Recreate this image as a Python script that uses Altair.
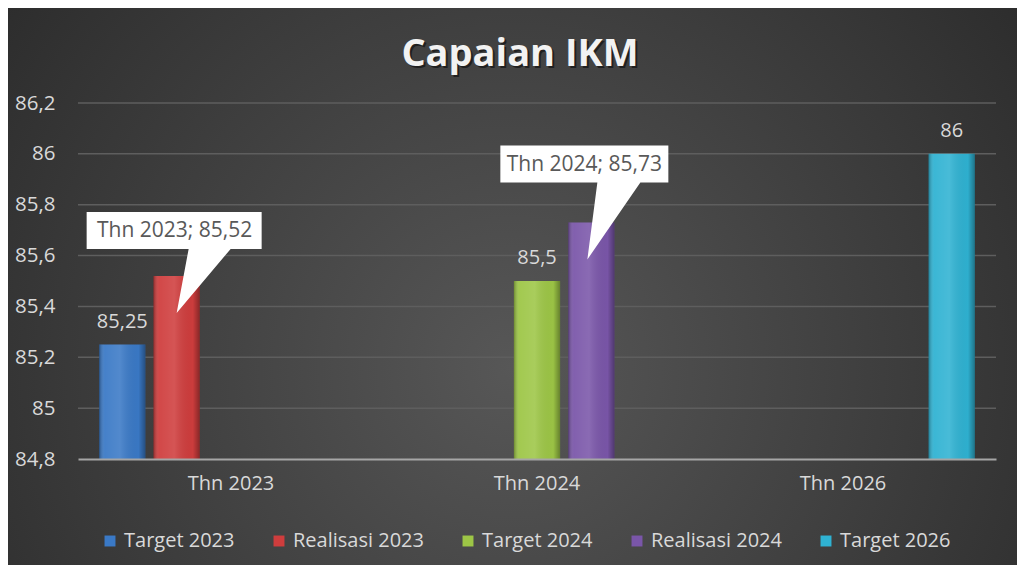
import altair as alt
import pandas as pd

# ---- data ----
categories = ["Thn 2023", "Thn 2023", "Thn 2024", "Thn 2024", "Thn 2026"]
series = ["Target 2023", "Realisasi 2023", "Target 2024", "Realisasi 2024", "Target 2026"]
values = [85.25, 85.52, 85.5, 85.73, 86.0]
category_order = ["Thn 2023", "Thn 2024", "Thn 2026"]
target_series = ["Target 2023", "Target 2024", "Target 2026"]
y_ticks = [84.8, 85.0, 85.2, 85.4, 85.6, 85.8, 86.0, 86.2]
title_text = "Capaian IKM"

colors = ["#3a79c6", "#cf3d3d", "#9dc646", "#7a56a9", "#2fb2d2"]

df = pd.DataFrame({"cat": categories, "series": series, "value": values})
grid_df = pd.DataFrame({"value": y_ticks[1:]})

W, H = 918, 356
FONT = "Open Sans"
LABEL = "#d9d9d9"
BASE = y_ticks[0]

x_enc = alt.X(
    "cat:N", sort=category_order,
    scale=alt.Scale(paddingInner=0, paddingOuter=0),
    axis=alt.Axis(title=None, labelAngle=0, labelFont=FONT, labelFontSize=20,
                  labelColor=LABEL, labelPadding=14, ticks=False, tickSize=0,
                  domainColor="#a6a6a6", domainWidth=2, zindex=1),
)
xo_enc = alt.XOffset("series:N", sort=series,
                     scale=alt.Scale(paddingInner=0.15, paddingOuter=0.39))
y_scale = alt.Scale(domain=[y_ticks[0], y_ticks[-1]], nice=False, zero=False)
y_enc = alt.Y(
    "value:Q", scale=y_scale,
    axis=alt.Axis(title=None, values=y_ticks,
                  labelExpr="replace(toString(round(datum.value*10)/10), '.', ',')",
                  labelFont=FONT, labelFontSize=20.5, labelColor=LABEL,
                  labelPadding=23, ticks=False, tickSize=0, domain=False,
                  grid=False, zindex=1),
)
y2_enc = alt.Y2(datum=BASE)

base = alt.Chart(df).transform_calculate(
    lab="replace(toString(datum.value), '.', ',')"
)

# background panel (radial gradient like the source)
bg = alt.Chart(pd.DataFrame({"a": [0]})).mark_rect(
    fill={"gradient": "radial", "x1": 0.5, "y1": 0.58, "r1": 0,
          "x2": 0.5, "y2": 0.58, "r2": 0.72,
          "stops": [{"offset": 0, "color": "#575757"},
                    {"offset": 1, "color": "#262626"}]},
    clip=False,
).encode(x=alt.value(-70), x2=alt.value(W + 21), y=alt.value(-95), y2=alt.value(H + 106))

# horizontal gridlines (behind the bars)
grid = alt.Chart(grid_df).mark_rule(color="#5e5e5e", strokeWidth=1.5).encode(
    y=alt.Y("value:Q", scale=y_scale)
)

bars = base.mark_bar(clip=True).encode(
    x=x_enc, xOffset=xo_enc, y=y_enc, y2=y2_enc,
    color=alt.Color(
        "series:N", sort=series,
        scale=alt.Scale(domain=series, range=colors),
        legend=alt.Legend(title=None, orient="none", direction="horizontal", columns=5,
                          legendX=22, legendY=428, labelFont=FONT, labelFontSize=20,
                          labelColor=LABEL, symbolType="square", symbolSize=120,
                          symbolStrokeWidth=0, labelOffset=4, columnPadding=34,
                          labelLimit=300),
    ),
)

shade = base.mark_bar(
    clip=True,
    fill={"gradient": "linear", "x1": 0, "y1": 0, "x2": 1, "y2": 0,
          "stops": [{"offset": 0, "color": "rgba(0,0,0,0.30)"},
                    {"offset": 0.12, "color": "rgba(255,255,255,0.06)"},
                    {"offset": 0.45, "color": "rgba(255,255,255,0.12)"},
                    {"offset": 0.85, "color": "rgba(0,0,0,0.02)"},
                    {"offset": 1, "color": "rgba(0,0,0,0.35)"}]},
).encode(x=x_enc, xOffset=xo_enc, y=y_enc, y2=y2_enc)

target_labels = base.transform_filter(
    alt.FieldOneOfPredicate(field="series", oneOf=target_series)
).mark_text(font=FONT, fontSize=20, color=LABEL, baseline="alphabetic", dy=-17).encode(
    x=x_enc, xOffset=xo_enc, y=y_enc, text="lab:N"
)

callout_shapes = [
    ("Realisasi 2023",
     "M -0.90 -0.64 L 0.85 -0.64 L 0.85 -0.27 L 0.54 -0.27 L 0 0.37 L 0.12 -0.27 L -0.90 -0.27 Z",
     -2, -45),
    ("Realisasi 2024",
     "M -0.91 -0.77 L 0.77 -0.77 L 0.77 -0.40 L 0.49 -0.40 L -0.04 0.37 L 0.06 -0.40 L -0.91 -0.40 Z",
     -7, -58),
]
callouts = []
for ser, path, tdx, tdy in callout_shapes:
    sub = base.transform_filter(alt.datum.series == ser).transform_calculate(
        ctext="datum.cat + '; ' + datum.lab"
    )
    callouts.append(
        sub.mark_point(shape=path, size=40000, filled=True, fill="white",
                       opacity=1, strokeWidth=0).encode(x=x_enc, xOffset=xo_enc, y=y_enc)
    )
    callouts.append(
        sub.mark_text(font=FONT, fontSize=21, color="#595959", align="center",
                      baseline="middle", dx=tdx, dy=tdy).encode(
            x=x_enc, xOffset=xo_enc, y=y_enc, text="ctext:N")
    )

title_df = pd.DataFrame({"t": [title_text]})
title_shadow = alt.Chart(title_df).mark_text(
    font=FONT, fontSize=38, fontWeight="bold", color="#000000", opacity=0.5,
    align="center", baseline="middle", dx=2, dy=2,
).encode(x=alt.value(442), y=alt.value(-48), text="t:N")
title = alt.Chart(title_df).mark_text(
    font=FONT, fontSize=38, fontWeight="bold", color="#f2f2f2",
    align="center", baseline="middle",
).encode(x=alt.value(442), y=alt.value(-48), text="t:N")

chart = alt.layer(bg, grid, bars, shade, target_labels, *callouts, title_shadow, title).properties(
    width=W, height=H,
    padding={"left": 70, "top": 95, "right": 21, "bottom": 106},
    autosize=alt.AutoSizeParams(type="none"),
    background="#2e2e2e",
).configure_view(stroke=None)

chart.save("out.html", embed_options={"renderer": "svg", "actions": False})
